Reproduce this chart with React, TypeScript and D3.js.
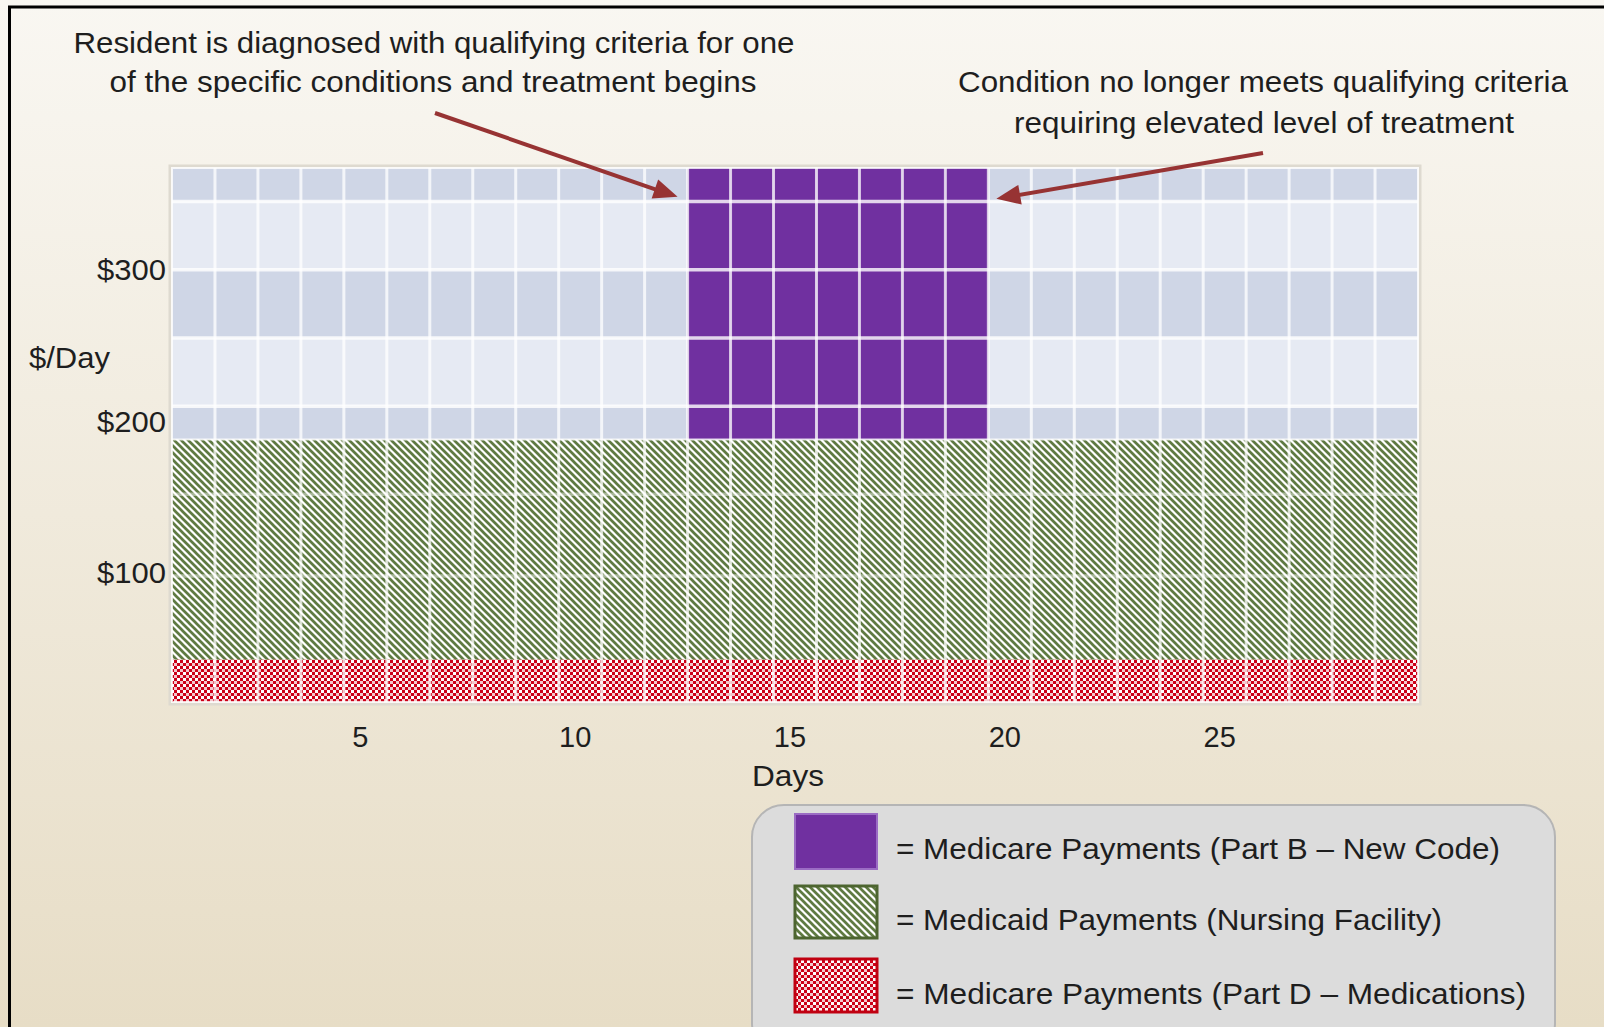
import React from "react";
import * as d3 from "d3";

// days on the x axis
const days = [1, 2, 3, 4, 5, 6, 7, 8, 9, 10, 11, 12, 13, 14, 15, 16, 17, 18, 19, 20, 21, 22, 23, 24, 25, 26, 27, 28, 29];

// $/day per series (schematic values)
const partD = [28, 28, 28, 28, 28, 28, 28, 28, 28, 28, 28, 28, 28, 28, 28, 28, 28, 28, 28, 28, 28, 28, 28, 28, 28, 28, 28, 28, 28];
const medicaid = [145, 145, 145, 145, 145, 145, 145, 145, 145, 145, 145, 145, 145, 145, 145, 145, 145, 145, 145, 145, 145, 145, 145, 145, 145, 145, 145, 145, 145];
const partB = [0, 0, 0, 0, 0, 0, 0, 0, 0, 0, 0, 0, 179, 179, 179, 179, 179, 179, 179, 0, 0, 0, 0, 0, 0, 0, 0, 0, 0];

const yTicks = [100, 200, 300];
const xTicks = [5, 10, 15, 20, 25];
const gridValues = [345, 300, 255, 210, 152, 98];
const yDomain = [15, 367];

const legendLabels = [
  "= Medicare Payments (Part B \u2013 New Code)",
  "= Medicaid Payments (Nursing Facility)",
  "= Medicare Payments (Part D \u2013 Medications)",
];

const W = 1604;
const H = 1027;
const FONT = "'Liberation Sans', Arial, sans-serif";

export default function App() {
  const x = d3.scaleBand<number>().domain(days).range([172, 1418]).padding(0);
  const y = d3.scaleLinear().domain(yDomain).range([702, 168]);
  const base = yDomain[0];

  const rows = days.map((d, i) => {
    const d0 = base;
    const d1 = d0 + partD[i];
    const m1 = d1 + medicaid[i];
    const b1 = m1 + partB[i];
    return { day: d, d0, d1, m1, b1 };
  });
  const blueBottom = rows[0].m1;

  // alternating background bands inside the blue area
  const bandEdges = [yDomain[1], ...gridValues.filter((v) => v > blueBottom), blueBottom];
  const bands = d3.pairs(bandEdges).map(([a, b], i) => ({ a, b, dark: i % 2 === 0 }));

  const left = x.range()[0];
  const right = x.range()[1];
  const top = y(yDomain[1]);
  const bottom = y(yDomain[0]);

  const firstB = days[partB.findIndex((v) => v > 0)];
  const lastB = days[partB.length - 1 - [...partB].reverse().findIndex((v) => v > 0)];
  const tipY = y(348);
  const leftTip = [x(firstB)! - 10, tipY];
  const rightTip = [x(lastB)! + x.bandwidth() + 8, tipY + 2];

  const arrowHead = (tx: number, ty: number, fx: number, fy: number) => {
    const ang = Math.atan2(ty - fy, tx - fx);
    const len = 24;
    const half = 10;
    const bx = tx - len * Math.cos(ang);
    const by = ty - len * Math.sin(ang);
    const px = -Math.sin(ang) * half;
    const py = Math.cos(ang) * half;
    return `M${tx},${ty}L${bx + px},${by + py}L${bx - px},${by - py}Z`;
  };

  const textStyle = { fontFamily: FONT, fill: "#1e1e1e" } as const;

  return (
    <div style={{ position: "absolute", left: 0, top: 0 }}>
      <svg width={W} height={H} style={{ display: "block" }}>
        <defs>
          <linearGradient id="bg" x1="0" y1="0" x2="0" y2="1">
            <stop offset="0" stopColor="#f9f7f2" />
            <stop offset="1" stopColor="#e7ddc6" />
          </linearGradient>
          <pattern id="diag" width="7" height="7" patternUnits="userSpaceOnUse">
            <rect width="7" height="7" fill="#ffffff" />
            <path d="M0,0L7,7M-3.5,3.5L3.5,10.5M3.5,-3.5L10.5,3.5" stroke="#5f7a42" strokeWidth="2.7" />
          </pattern>
          <pattern id="check" width="6" height="6" patternUnits="userSpaceOnUse">
            <rect width="6" height="6" fill="#f3c8cd" />
            <rect x="0" y="0" width="3" height="3" fill="#cc0018" />
            <rect x="3" y="3" width="3" height="3" fill="#cc0018" />
            <rect x="3" y="0" width="3" height="3" fill="#ffffff" />
          </pattern>
        </defs>

        <rect width={W} height={H} fill="url(#bg)" />
        <rect x={9.5} y={7} width={W + 20} height={H + 20} fill="none" stroke="#000" strokeWidth={3} />

        {/* plot background */}
        <rect x={left - 2} y={top - 2} width={right - left + 4} height={bottom - top + 4} fill="none" stroke="#dedad0" strokeWidth={3} />
        {bands.map((b, i) => (
          <rect key={i} x={left} y={y(b.a)} width={right - left} height={y(b.b) - y(b.a)} fill={b.dark ? "#cfd6e6" : "#e6eaf3"} />
        ))}

        {/* stacked bars */}
        {rows.map((r) => (
          <g key={r.day}>
            <rect x={x(r.day)} y={y(r.d1)} width={x.bandwidth()} height={y(r.d0) - y(r.d1)} fill="url(#check)" />
            <rect x={x(r.day)} y={y(r.m1)} width={x.bandwidth()} height={y(r.d1) - y(r.m1)} fill="url(#diag)" />
            {r.b1 > r.m1 && (
              <rect x={x(r.day)} y={y(r.b1)} width={x.bandwidth()} height={y(r.m1) - y(r.b1)} fill="#7030a0" />
            )}
          </g>
        ))}

        {/* white grid */}
        {days.slice(1).map((d) => (
          <line key={d} x1={x(d)} x2={x(d)} y1={top} y2={bottom} stroke="#fff" strokeWidth={3} strokeOpacity={0.75} />
        ))}
        {gridValues.map((v) => (
          <line key={v} x1={left} x2={right} y1={y(v)} y2={y(v)} stroke="#fff" strokeWidth={3.5} strokeOpacity={v > blueBottom ? 0.8 : 0.45} />
        ))}
        <line x1={left} x2={right} y1={y(blueBottom)} y2={y(blueBottom)} stroke="#fff" strokeWidth={2} strokeOpacity={0.8} />
        <rect x={left} y={top} width={right - left} height={bottom - top} fill="none" stroke="#fff" strokeWidth={2} strokeOpacity={0.8} />

        {/* axes labels */}
        {yTicks.map((t) => (
          <text key={t} x={166} y={y(t)} dy="0.36em" textAnchor="end" fontSize={29} textLength={69} lengthAdjust="spacingAndGlyphs" style={textStyle}>
            {"$" + t}
          </text>
        ))}
        <text x={29} y={368} fontSize={29} textLength={81} lengthAdjust="spacingAndGlyphs" style={textStyle}>
          $/Day
        </text>
        {xTicks.map((t) => (
          <text key={t} x={x(t)! + x.bandwidth() / 2 - 5} y={747} textAnchor="middle" fontSize={29} style={textStyle}>
            {t}
          </text>
        ))}
        <text x={788} y={786} textAnchor="middle" fontSize={29} textLength={72} lengthAdjust="spacingAndGlyphs" style={textStyle}>
          Days
        </text>

        {/* annotations */}
        <text x={434} y={53} textAnchor="middle" fontSize={30} textLength={721} lengthAdjust="spacingAndGlyphs" style={textStyle}>
          Resident is diagnosed with qualifying criteria for one
        </text>
        <text x={433} y={92} textAnchor="middle" fontSize={30} textLength={647} lengthAdjust="spacingAndGlyphs" style={textStyle}>
          of the specific conditions and treatment begins
        </text>
        <text x={1263} y={92} textAnchor="middle" fontSize={30} textLength={610} lengthAdjust="spacingAndGlyphs" style={textStyle}>
          Condition no longer meets qualifying criteria
        </text>
        <text x={1264} y={133} textAnchor="middle" fontSize={30} textLength={500} lengthAdjust="spacingAndGlyphs" style={textStyle}>
          requiring elevated level of treatment
        </text>

        <line x1={435} y1={113} x2={leftTip[0] - 18} y2={leftTip[1] - 6} stroke="#973333" strokeWidth={4} />
        <path d={arrowHead(leftTip[0], leftTip[1], 435, 113)} fill="#973333" />
        <line x1={1263} y1={153} x2={rightTip[0] + 18} y2={rightTip[1] - 3} stroke="#973333" strokeWidth={4} />
        <path d={arrowHead(rightTip[0], rightTip[1], 1263, 153)} fill="#973333" />

        {/* legend */}
        <rect x={752} y={805} width={803} height={250} rx={32} fill="#dcdcdc" stroke="#b5b5b5" strokeWidth={2} />
        <rect x={795} y={814} width={82} height={55} fill="#7030a0" stroke="#9b6cc4" strokeWidth={2} />
        <rect x={795} y={886} width={82} height={52} fill="url(#diag)" stroke="#4d6530" strokeWidth={3} />
        <rect x={795} y={959} width={82} height={53} fill="url(#check)" stroke="#c00010" strokeWidth={3} />
        {legendLabels.map((l, i) => (
          <text key={l} x={896} y={[859, 930, 1004][i]} fontSize={30} textLength={[604, 546, 630][i]} lengthAdjust="spacingAndGlyphs" style={textStyle}>
            {l}
          </text>
        ))}
      </svg>
    </div>
  );
}
